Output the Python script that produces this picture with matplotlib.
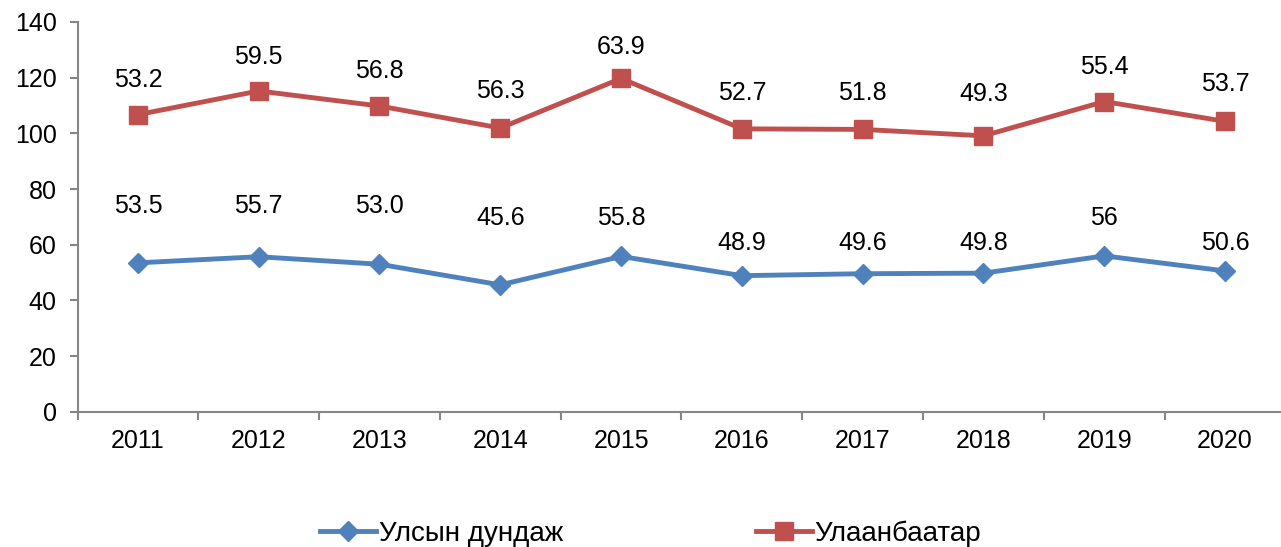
import numpy as np
import matplotlib
matplotlib.use("Agg")
from matplotlib import pyplot as plt
from matplotlib.ticker import MultipleLocator, FixedLocator

years = ["2011", "2012", "2013", "2014", "2015", "2016", "2017", "2018", "2019", "2020"]
national = [53.5, 55.7, 53.0, 45.6, 55.8, 48.9, 49.6, 49.8, 56.0, 50.6]
national_labels = ["53.5", "55.7", "53.0", "45.6", "55.8", "48.9", "49.6", "49.8", "56", "50.6"]
ulaanbaatar = [53.2, 59.5, 56.8, 56.3, 63.9, 52.7, 51.8, 49.3, 55.4, 53.7]
ub_labels = ["53.2", "59.5", "56.8", "56.3", "63.9", "52.7", "51.8", "49.3", "55.4", "53.7"]

# label offsets above each point, in pixels
national_off = [57, 51, 58, 67, 38, 33, 31, 30, 38, 28]
ub_off = [35, 34, 35, 37, 31, 36, 36, 42, 35, 37]

plt.rcParams['font.family'] = ['Liberation Sans', 'DejaVu Sans']

blue = '#4F81BD'
red = '#C0504D'
grey = '#868686'

fig = plt.figure(figsize=(12.81, 5.47), dpi=100)
ax = fig.add_axes([0.0605, 0.247, 0.943, 0.713])

x = np.arange(len(years))
nat = np.array(national)
ub_stack = nat + np.array(ulaanbaatar)

ax.plot(x, nat, color=blue, lw=3.5, marker='D', ms=10, mfc=blue, mec=blue,
        label='Улсын дундаж', solid_joinstyle='round')
ax.plot(x, ub_stack, color=red, lw=3.5, marker='s', ms=13.5, mfc=red, mec=red,
        label='Улаанбаатар', solid_joinstyle='round')

for i in range(len(x)):
    ax.annotate(national_labels[i], (x[i], nat[i]), xytext=(0, national_off[i] * 0.72),
                textcoords='offset points', ha='center', va='center', fontsize=18)
    ax.annotate(ub_labels[i], (x[i], ub_stack[i]), xytext=(0, ub_off[i] * 0.72),
                textcoords='offset points', ha='center', va='center', fontsize=18)

ax.set_xlim(-0.5, len(years) - 0.5)
ax.set_ylim(0, 140)
ax.yaxis.set_major_locator(MultipleLocator(20))
ax.set_xticks(x)
ax.set_xticklabels(years)
ax.xaxis.set_minor_locator(FixedLocator(np.arange(-0.5, len(years), 1.0)))
ax.tick_params(axis='x', which='major', length=0, pad=12, labelsize=18)
ax.tick_params(axis='x', which='minor', length=6, width=1.5, color=grey, direction='out')
ax.tick_params(axis='y', length=6, width=1.5, color=grey, direction='out', labelsize=18, pad=9)

for s in ['top', 'right']:
    ax.spines[s].set_visible(False)
for s in ['left', 'bottom']:
    ax.spines[s].set_color(grey)
    ax.spines[s].set_linewidth(1.5)

leg = fig.legend(loc='center', bbox_to_anchor=(0.508, 0.025), ncol=2, frameon=False,
                 handlelength=2.0, handletextpad=0.1, columnspacing=6.95,
                 prop={'family': ['Liberation Sans Narrow', 'Liberation Sans'], 'size': 20})

fig.savefig('out.png', dpi=100)
